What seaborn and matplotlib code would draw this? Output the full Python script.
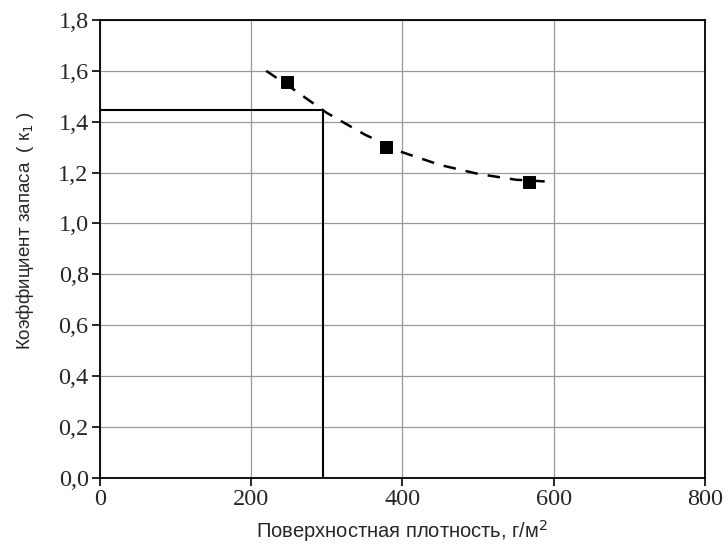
import matplotlib
matplotlib.use('Agg')
import matplotlib.pyplot as plt
import matplotlib.ticker as mticker
import seaborn as sns

# measured points
density = [248, 378, 567]
k_zapas = [1.555, 1.30, 1.163]

# dashed trend curve
curve_x = [220, 250, 300, 350, 400, 450, 500, 550, 590]
curve_y = [1.60, 1.54, 1.435, 1.35, 1.28, 1.23, 1.195, 1.172, 1.165]

# reference lines
ref_x = 295
ref_y = 1.445

x_ticks = [0, 200, 400, 600, 800]
y_ticks = [0.0, 0.2, 0.4, 0.6, 0.8, 1.0, 1.2, 1.4, 1.6, 1.8]

sns.set_style('white')
plt.rcParams['font.family'] = ['Liberation Serif', 'DejaVu Serif']

fig = plt.figure(figsize=(7.23, 5.55), dpi=100)
ax = fig.add_axes([0.138, 0.139, 0.837, 0.825])

ax.set_xlim(0, 800)
ax.set_ylim(0, 1.8)
ax.set_xticks(x_ticks)
ax.set_yticks(y_ticks)
ax.grid(True, color='#9a9a9a', linewidth=0.9)
ax.set_axisbelow(True)

sns.lineplot(x=curve_x, y=curve_y, ax=ax, color='black', linewidth=1.8,
             linestyle=(0, (5, 4)), zorder=3)
sns.scatterplot(x=density, y=k_zapas, ax=ax, marker='s', s=75, color='black',
                edgecolor='black', zorder=4)

ax.plot([0, ref_x], [ref_y, ref_y], color='black', linewidth=1.5, zorder=3)
ax.plot([ref_x, ref_x], [0, ref_y], color='black', linewidth=1.5, zorder=3)

fmt = mticker.FuncFormatter(lambda v, p: f'{v:.1f}'.replace('.', ','))
ax.yaxis.set_major_formatter(fmt)
ax.xaxis.set_major_formatter(mticker.FuncFormatter(lambda v, p: f'{v:.0f}'))

for sp in ax.spines.values():
    sp.set_color('black')
    sp.set_linewidth(1.3)
ax.tick_params(axis='both', which='major', direction='out', length=6, width=1.2,
               color='black', labelsize=17.5, left=True, bottom=True, pad=2)

ax.set_xlabel('Поверхностная плотность, г/м$^2$', fontsize=14.5,
              family=['Liberation Sans', 'DejaVu Sans'], labelpad=6)
ax.set_ylabel('Коэффициент запаса  ( к$_1$ )', fontsize=13.5,
              family=['Liberation Sans', 'DejaVu Sans'])
ax.yaxis.set_label_coords(-0.105, 0.54)

fig.savefig('out.png', dpi=100)
